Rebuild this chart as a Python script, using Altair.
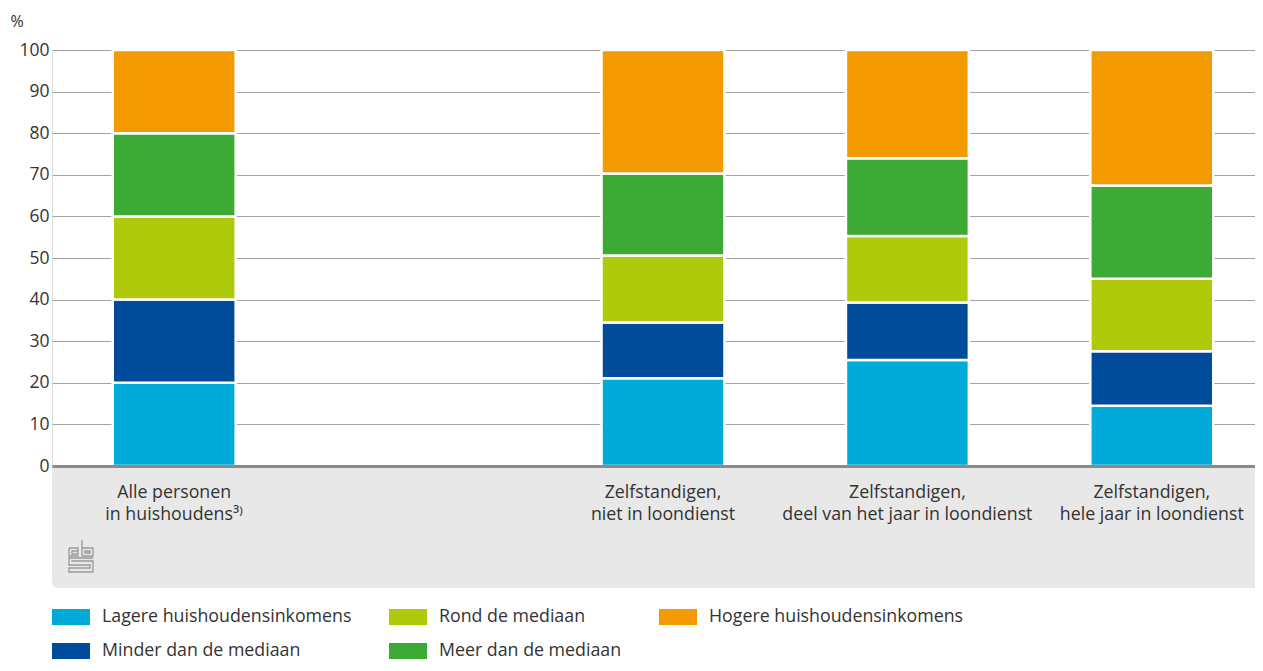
import altair as alt
import pandas as pd

categories = [
    "Alle personen\nin huishoudens³⁾",
    " ",
    "Zelfstandigen,\nniet in loondienst",
    "Zelfstandigen,\ndeel van het jaar in loondienst",
    "Zelfstandigen,\nhele jaar in loondienst",
]
bar_categories = [categories[0], categories[2], categories[3], categories[4]]

series = [
    "Lagere huishoudensinkomens",
    "Minder dan de mediaan",
    "Rond de mediaan",
    "Meer dan de mediaan",
    "Hogere huishoudensinkomens",
]
lagere = [20, 21.1, 25.5, 14.5]
minder = [20, 13.4, 13.8, 13.1]
rond = [20, 16.1, 16.0, 17.4]
meer = [20, 19.7, 18.7, 22.4]
hogere = [20, 29.7, 26.0, 32.6]
values = [lagere, minder, rond, meer, hogere]

colors = ["#00aad9", "#004c9b", "#afca0b", "#3caa35", "#f39a00"]

rows = []
for si, (s, vals) in enumerate(zip(series, values)):
    for c, v in zip(bar_categories, vals):
        rows.append({"categorie": c, "reeks": s, "waarde": v, "volgorde": si})
df = pd.DataFrame(rows)

W, H = 1203, 416
XRANGE = 1222
FONT = "Open Sans"
FS = 17.8
TXT = "#333333"

logo_svg = (
    "data:image/svg+xml;utf8,"
    "<svg xmlns='http://www.w3.org/2000/svg' width='26' height='34' viewBox='0 0 26 34'>"
    "<g fill='none' stroke='%23999' stroke-width='1.3'>"
    "<path d='M1 9 H10 V15 H4 V12 H10 M1 9 V17 H11'/>"
    "<path d='M14 1 V17 H25 V9 H14 M17 12 H22 V14 H17 Z'/>"
    "<path d='M25 19 H1 V26 H22 V29 H1 V33 H25 V22 H4 V23'/>"
    "</g></svg>"
)

panel = alt.Chart(pd.DataFrame({"p": [0]})).mark_rect(
    color="#e8e8e8", cornerRadiusBottomLeft=6, cornerRadiusBottomRight=6
).encode(
    x=alt.value(0), x2=alt.value(XRANGE), y=alt.value(H + 2), y2=alt.value(H + 122)
)

logo = alt.Chart(pd.DataFrame({"u": [logo_svg]})).mark_image(
    width=26, height=34, align="left", baseline="top"
).encode(x=alt.value(16), y=alt.value(H + 73), url="u:N")

bars = alt.Chart(df).mark_bar(stroke="white", strokeWidth=2.5).encode(
    x=alt.X(
        "categorie:N",
        scale=alt.Scale(
            domain=categories, range=[0, XRANGE], paddingInner=0.497, paddingOuter=0.2485
        ),
        axis=alt.Axis(
            title=None,
            labelAngle=0,
            labelExpr="split(datum.label, '\\n')",
            labelFont=FONT,
            labelFontSize=FS,
            labelColor=TXT,
            labelLineHeight=22,
            labelPadding=17,
            labelBaseline="top",
            labelLimit=500,
            ticks=False,
            domainColor="#8a8a8a",
            domainWidth=3,
            zindex=1,
        ),
    ),
    y=alt.Y(
        "waarde:Q",
        stack="zero",
        scale=alt.Scale(domain=[0, 100], nice=False),
        axis=alt.Axis(
            title="%",
            titleAngle=0,
            titleX=-42,
            titleY=-29,
            titleAlign="left",
            titleBaseline="middle",
            titleFont=FONT,
            titleFontSize=16,
            titleFontWeight="normal",
            titleColor=TXT,
            values=list(range(0, 101, 10)),
            labelFont=FONT,
            labelFontSize=17.5,
            labelColor=TXT,
            labelPadding=3,
            ticks=False,
            domain=False,
            gridColor="#a3a3a3",
            gridWidth=1.2,
        ),
    ),
    color=alt.Color(
        "reeks:N",
        scale=alt.Scale(domain=series, range=colors),
        legend=alt.Legend(
            title=None,
            orient="none",
            legendX=0,
            legendY=548,
            columns=3,
            columnPadding=37,
            rowPadding=6,
            symbolType="M-1,-0.42H1V0.42H-1Z",
            symbolSize=1444,
            symbolStrokeWidth=0,
            symbolOpacity=1,
            labelOffset=12,
            labelFont=FONT,
            labelFontSize=FS,
            labelColor=TXT,
            labelLimit=400,
        ),
    ),
    order=alt.Order("volgorde:Q", sort="ascending"),
)

chart = alt.layer(panel, logo, bars).properties(
    width=W,
    height=H,
    autosize=alt.AutoSizeParams(type="none"),
    padding={"left": 44, "top": 42, "right": 0, "bottom": 197},
).configure_view(stroke=None).configure(background="white")

chart.save("out.html", embed_options={"renderer": "svg", "actions": False})
